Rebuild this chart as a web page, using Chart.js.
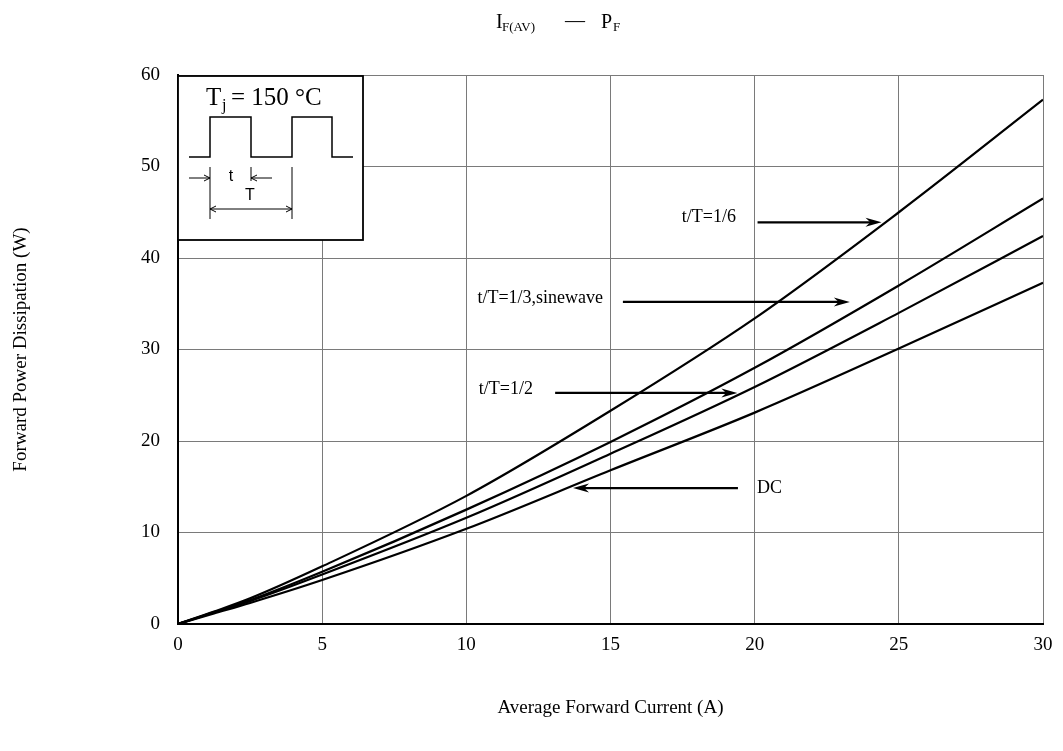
<!DOCTYPE html>
<html>
<head>
<meta charset="utf-8">
<script src="https://cdn.jsdelivr.net/npm/chart.js@4/dist/chart.umd.min.js"></script>
<style>
  html, body { margin: 0; padding: 0; background: #fff; }
  canvas { display: block; }
</style>
</head>
<body>
<canvas id="pfChart" width="1063" height="751"></canvas>
<script>
// average forward current (A)
var currents = [0, 1.25, 2.5, 5, 10, 15, 20, 25, 30];
// forward power dissipation (W) per duty ratio
var powerDuty16 = [0, 1.35, 2.8, 6.3, 14.0, 23.3, 33.4, 45.0, 57.3];
var powerDuty13 = [0, 1.3, 2.6, 5.7, 12.5, 19.9, 28.0, 37.0, 46.5];
var powerDuty12 = [0, 1.25, 2.5, 5.4, 11.6, 18.6, 25.9, 34.0, 42.4];
var powerDC = [0, 1.15, 2.3, 4.8, 10.4, 16.8, 23.1, 30.1, 37.3];

var xTicks = [0, 5, 10, 15, 20, 25, 30];
var yTicks = [0, 10, 20, 30, 40, 50, 60];

var serif = '"Liberation Serif", "Times New Roman", serif';

function toPoints(ys) {
    return currents.map(function(x, i) { return { x: x, y: ys[i] }; });
}

function lineSet(label, ys) {
    return {
        label: label,
        data: toPoints(ys),
        borderColor: '#000',
        borderWidth: 2.2,
        pointRadius: 0,
        fill: false,
        cubicInterpolationMode: 'monotone'
    };
}

// labels + arrows, in data units
var notes = [
    { text: 't/T=1/6', tx: 19.35, ty: 44.4, align: 'right', ax1: 20.1, ax2: 24.4, ay: 43.9 },
    { text: 't/T=1/3,sinewave', tx: 14.74, ty: 35.6, align: 'right', ax1: 15.43, ax2: 23.3, ay: 35.2 },
    { text: 't/T=1/2', tx: 12.31, ty: 25.6, align: 'right', ax1: 13.08, ax2: 19.4, ay: 25.25 },
    { text: 'DC', tx: 20.08, ty: 14.86, align: 'left', ax1: 19.42, ax2: 13.7, ay: 14.86 }
];

function arrowHead(ctx, x, y, dir, len, half) {
    ctx.beginPath();
    ctx.moveTo(x, y);
    ctx.lineTo(x - dir * len, y - half);
    ctx.lineTo(x - dir * len * 0.7, y);
    ctx.lineTo(x - dir * len, y + half);
    ctx.closePath();
    ctx.fill();
}

function thinArrow(ctx, x, y, dir) {
    ctx.beginPath();
    ctx.moveTo(x - dir * 6, y - 3);
    ctx.lineTo(x, y);
    ctx.lineTo(x - dir * 6, y + 3);
    ctx.stroke();
}

var decorPlugin = {
    id: 'decor',
    afterDatasetsDraw: function(chart) {
        var ctx = chart.ctx;
        var xs = chart.scales.x, ys = chart.scales.y;
        var area = chart.chartArea;
        ctx.save();

        // annotations
        ctx.fillStyle = '#000';
        ctx.strokeStyle = '#000';
        ctx.font = '18px ' + serif;
        ctx.textBaseline = 'middle';
        notes.forEach(function(n) {
            ctx.textAlign = n.align;
            ctx.fillText(n.text, xs.getPixelForValue(n.tx), ys.getPixelForValue(n.ty));
            var x1 = xs.getPixelForValue(n.ax1), x2 = xs.getPixelForValue(n.ax2);
            var y = ys.getPixelForValue(n.ay);
            var dir = x2 > x1 ? 1 : -1;
            ctx.lineWidth = 2.2;
            ctx.beginPath();
            ctx.moveTo(x1, y);
            ctx.lineTo(x2 - dir * 8, y);
            ctx.stroke();
            arrowHead(ctx, x2, y, dir, 16, 4.5);
        });

        // inset box with waveform
        var bx = area.left, by = area.top;
        ctx.fillStyle = '#fff';
        ctx.fillRect(bx, by + 1, 185, 164);
        ctx.strokeStyle = '#000';
        ctx.lineWidth = 1.8;
        ctx.strokeRect(bx, by + 1, 185, 164);

        ctx.fillStyle = '#000';
        ctx.textAlign = 'left';
        ctx.textBaseline = 'alphabetic';
        ctx.font = '25px ' + serif;
        ctx.fillText('T', bx + 28, by + 30);
        ctx.font = '16px ' + serif;
        ctx.fillText('j', bx + 44, by + 35);
        ctx.font = '25px ' + serif;
        ctx.fillText('= 150 °C', bx + 53, by + 30);

        ctx.lineWidth = 1.5;
        var low = by + 82, high = by + 42;
        ctx.beginPath();
        ctx.moveTo(bx + 11, low);
        ctx.lineTo(bx + 32, low);
        ctx.lineTo(bx + 32, high);
        ctx.lineTo(bx + 73, high);
        ctx.lineTo(bx + 73, low);
        ctx.lineTo(bx + 114, low);
        ctx.lineTo(bx + 114, high);
        ctx.lineTo(bx + 154, high);
        ctx.lineTo(bx + 154, low);
        ctx.lineTo(bx + 175, low);
        ctx.stroke();

        ctx.lineWidth = 1;
        ctx.beginPath();
        ctx.moveTo(bx + 32, by + 92); ctx.lineTo(bx + 32, by + 144);
        ctx.moveTo(bx + 73, by + 92); ctx.lineTo(bx + 73, by + 106);
        ctx.moveTo(bx + 114, by + 92); ctx.lineTo(bx + 114, by + 144);
        ctx.moveTo(bx + 11, by + 103); ctx.lineTo(bx + 32, by + 103);
        ctx.moveTo(bx + 94, by + 103); ctx.lineTo(bx + 73, by + 103);
        ctx.moveTo(bx + 32, by + 134); ctx.lineTo(bx + 114, by + 134);
        ctx.stroke();
        thinArrow(ctx, bx + 32, by + 103, 1);
        thinArrow(ctx, bx + 73, by + 103, -1);
        thinArrow(ctx, bx + 32, by + 134, -1);
        thinArrow(ctx, bx + 114, by + 134, 1);

        ctx.font = '16px "Liberation Sans", Arial, sans-serif';
        ctx.textAlign = 'center';
        ctx.textBaseline = 'middle';
        ctx.fillText('t', bx + 53, by + 102);
        ctx.fillText('T', bx + 72, by + 121);

        // chart title with subscripts
        ctx.textAlign = 'left';
        ctx.textBaseline = 'alphabetic';
        ctx.font = '20px ' + serif;
        ctx.fillText('I', 496, 28);
        ctx.font = '13px ' + serif;
        ctx.fillText('F(AV)', 502, 31);
        ctx.font = '20px ' + serif;
        ctx.fillText('—', 565, 27);
        ctx.fillText('P', 601, 28);
        ctx.font = '13px ' + serif;
        ctx.fillText('F', 613, 31);

        ctx.restore();
    }
};

var pfChartConfig = {
    type: 'line',
    data: {
        datasets: [
            lineSet('t/T=1/6', powerDuty16),
            lineSet('t/T=1/3,sinewave', powerDuty13),
            lineSet('t/T=1/2', powerDuty12),
            lineSet('DC', powerDC)
        ]
    },
    options: {
        responsive: false,
        animation: false,
        layout: { padding: { left: 0, right: 20, top: 75, bottom: 0 } },
        plugins: {
            legend: { display: false },
            title: { display: false },
            tooltip: { enabled: false }
        },
        scales: {
            x: {
                type: 'linear',
                min: 0,
                max: 30,
                afterFit: function(scale) { scale.height = 127; },
                afterBuildTicks: function(scale) {
                    scale.ticks = xTicks.map(function(v) { return { value: v }; });
                },
                grid: { color: '#7a7a7a', lineWidth: 1, drawTicks: false },
                border: { color: '#000', width: 2 },
                ticks: { padding: 10, color: '#000', font: { family: serif, size: 19 } },
                title: {
                    display: true,
                    text: 'Average Forward Current (A)',
                    color: '#000',
                    font: { family: serif, size: 19 },
                    padding: { bottom: 32 }
                }
            },
            y: {
                type: 'linear',
                min: 0,
                max: 60,
                afterFit: function(scale) { scale.width = 178; },
                afterBuildTicks: function(scale) {
                    scale.ticks = yTicks.map(function(v) { return { value: v }; });
                },
                grid: { color: '#7a7a7a', lineWidth: 1, drawTicks: false },
                border: { color: '#000', width: 2 },
                ticks: { padding: 18, color: '#000', font: { family: serif, size: 19 } },
                title: {
                    display: true,
                    text: 'Forward Power Dissipation (W)',
                    color: '#000',
                    font: { family: serif, size: 19 },
                    padding: { top: 10 }
                }
            }
        }
    },
    plugins: [decorPlugin]
};

window.onload = function() {
    var ctx = document.getElementById('pfChart').getContext('2d');
    window.pfChart = new Chart(ctx, pfChartConfig);
};
</script>
</body>
</html>
